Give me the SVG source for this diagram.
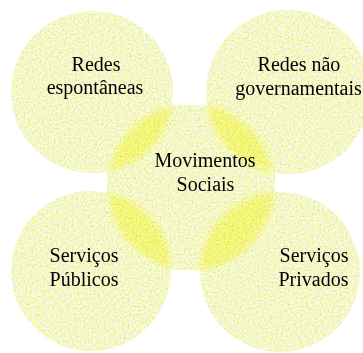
<svg xmlns="http://www.w3.org/2000/svg" width="363" height="353" viewBox="0 0 363 353">
<defs>
<filter id="tex" filterUnits="userSpaceOnUse" x="0" y="0" width="363" height="353" color-interpolation-filters="sRGB">
<feTurbulence type="fractalNoise" baseFrequency="0.5" numOctaves="2" seed="7" result="n"/>
<feColorMatrix in="n" type="matrix" values="0.4 0 0 0 0.76  0 0.35 0 0 0.8  0 0 0.9 0 0.33  0 0 0 0 1" result="c"/>
<feComposite in="c" in2="SourceAlpha" operator="in" result="ci"/>
<feBlend in="ci" in2="SourceGraphic" mode="multiply"/>
</filter>
<filter id="soft" x="-20%" y="-20%" width="140%" height="140%">
<feGaussianBlur stdDeviation="3"/>
</filter>
<clipPath id="corners">
<circle cx="92" cy="92" r="81"/>
<circle cx="288" cy="92" r="82"/>
<circle cx="91" cy="271" r="80"/>
<circle cx="280" cy="272" r="80"/>
</clipPath>
</defs>
<style>
.blob{fill:#ffffff;filter:url(#tex)}
.lbl{font-size:20px;fill:#000;text-anchor:middle}
.lens{mix-blend-mode:multiply;filter:url(#soft)}
</style>
<rect width="363" height="353" fill="#ffffff"/>
<g id="redes-espontaneas"><circle class="blob" cx="92" cy="92" r="81"/></g>
<g id="redes-nao-governamentais"><circle class="blob" cx="288" cy="92" r="82"/></g>
<g id="servicos-publicos"><circle class="blob" cx="91" cy="271" r="80"/></g>
<g id="servicos-privados"><circle class="blob" cx="280" cy="272" r="80"/></g>
<g id="movimentos-sociais">
<rect class="blob" x="107" y="105" width="168" height="165"/>
<g class="lens"><circle cx="191" cy="187" r="83" fill="#fdfd9a" clip-path="url(#corners)"/></g>
</g>
<g id="connectors"></g>
<g id="labels" font-family="'Liberation Serif', 'Times New Roman', serif">
<text class="lbl" x="96" y="70.5">Redes</text>
<text class="lbl" x="95" y="93.5">espontâneas</text>
<text class="lbl" x="299" y="71">Redes não</text>
<text class="lbl" x="298.5" y="94.5">governamentais</text>
<text class="lbl" x="205" y="166.5">Movimentos</text>
<text class="lbl" x="205.5" y="190.5">Sociais</text>
<text class="lbl" x="84" y="262">Serviços</text>
<text class="lbl" x="84" y="286">Públicos</text>
<text class="lbl" x="314" y="262">Serviços</text>
<text class="lbl" x="313.5" y="286">Privados</text>
</g>
</svg>
